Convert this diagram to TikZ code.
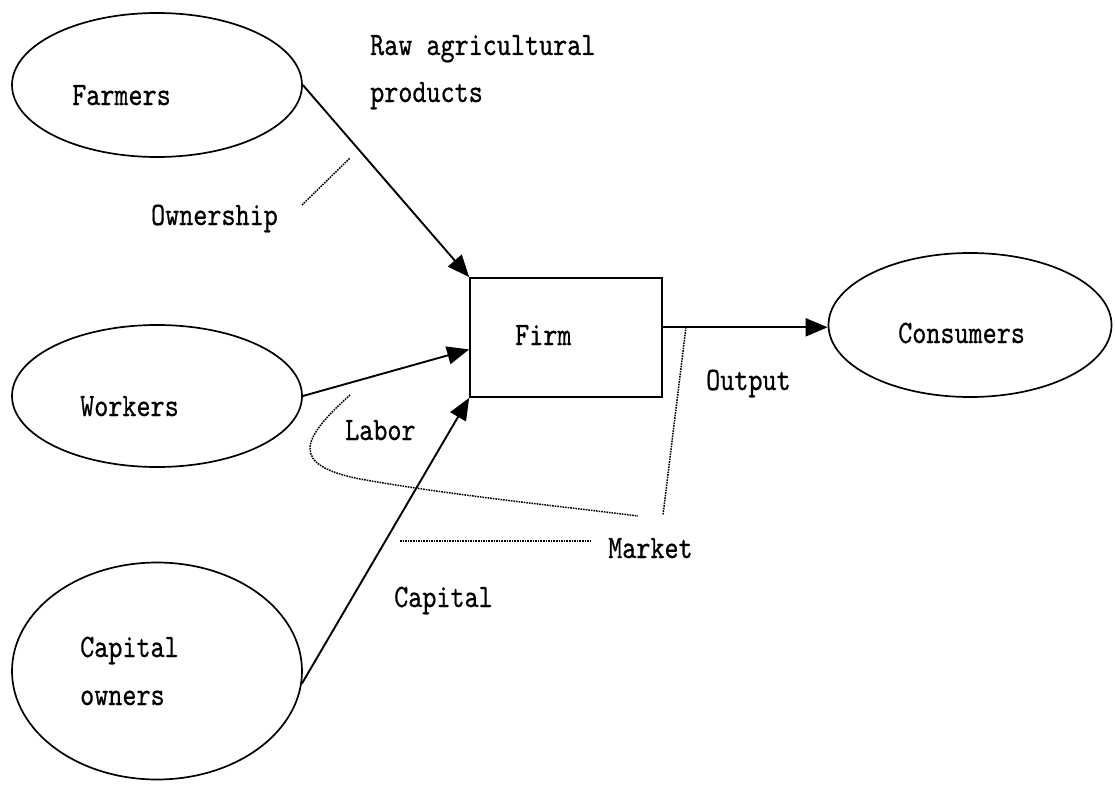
\documentclass[tikz,border=0pt]{standalone}
\usepackage{tikz}
\usepackage{xcolor}
\usepackage{fontspec}
\usetikzlibrary{shapes.geometric,arrows.meta}
\newfontfamily\diagfont{lmmono10-regular.otf}[FakeStretch=0.82,FakeBold=0.6]

\begin{document}
\begin{tikzpicture}[x=1pt,y=-1pt]
				\tikzstyle{every node}+=[inner sep=0pt]
				\tikzstyle{agent}=[draw=black,ellipse,line width=1.7pt]
				\tikzstyle{txt}=[anchor=base west,font=\diagfont\fontsize{32.7}{47}\selectfont]
				\tikzstyle{flow}=[black,line width=1.9pt,-{Triangle[length=22pt,width=18pt]}]
				\tikzstyle{mkt}=[black,line width=1.5pt,dash pattern=on 1.6pt off 1pt]
				\useasboundingbox (0,0) rectangle (1115,784);
				\node [agent,minimum width=290pt,minimum height=144pt] (farmers) at (157,85) {};
				\node [agent,minimum width=290pt,minimum height=142pt] (workers) at (157,396) {};
				\node [agent,minimum width=290pt,minimum height=217pt] (capital) at (157,671) {};
				\node [agent,minimum width=283pt,minimum height=144pt] (consumers) at (970,325) {};
				\node [draw=black,line width=1.7pt,minimum width=192pt,minimum height=119pt] (firm) at (566,337.5) {};
				\node [txt] (farmers-l) at (72,105) {Farmers};
				\node [txt] (workers-l) at (80,416) {Workers};
				\node [txt] (capital-l1) at (80,657) {Capital};
				\node [txt] (capital-l2) at (80,705) {owners};
				\node [txt] (firm-l) at (515,345) {Firm};
				\node [txt] (consumers-l) at (898,343) {Consumers};
				\node [txt] (raw1) at (370,55) {Raw agricultural};
				\node [txt] (raw2) at (370,102) {products};
				\node [txt,anchor=base east] (ownership) at (278,225) {Ownership};
				\node [txt] (labor) at (345,440) {Labor};
				\node [txt] (capital-in) at (394,607) {Capital};
				\node [txt] (market) at (608,558) {Market};
				\node [txt] (output) at (706,390) {Output};
				\draw [flow] (farmers.east) -- (firm.north west);
				\draw [flow] (workers.east) -- (firm.187);
				\draw [flow] (capital.-5) -- (firm.south west);
				\draw [flow] (firm.6) -- (firm.6 -| consumers.west);
				\coordinate (own-a) at (302,205);
				\coordinate (own-b) at (350,158);
				\coordinate (lab-a) at (350,395);
				\coordinate (lab-b) at (360,479);
				\coordinate (lab-c) at (638,516);
				\coordinate (out-a) at (686,327);
				\coordinate (out-b) at (663,515);
				\coordinate (cap-a) at (400,541);
				\coordinate (cap-b) at (590,541);
				\draw [mkt] (own-a) -- (own-b);
				\draw [mkt] (lab-a) .. controls (300,440) and (290,465) .. (lab-b) .. controls (450,495) and (550,505) .. (lab-c);
				\draw [mkt] (out-a) -- (out-b);
				\draw [mkt] (cap-a) -- (cap-b);
\end{tikzpicture}
\end{document}
